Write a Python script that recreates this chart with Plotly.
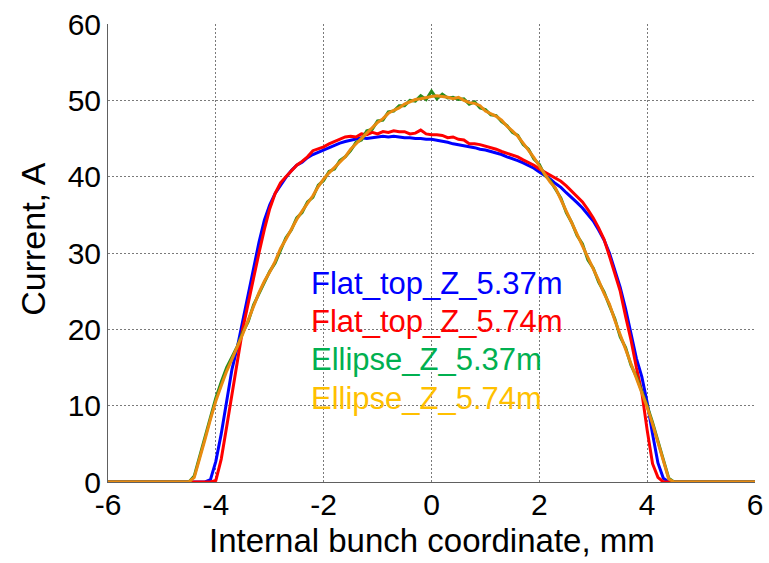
import numpy as np
import plotly.graph_objects as go

# Sample grid of the bunch coordinate (mm); beyond +/-4.5 every profile is zero
coord = [round(v, 1) for v in np.arange(-4.5, 4.51, 0.1)]
x_edges = [-6.0, 6.0]

flat_top_537 = [
    0, 0, 0, 0, 0.3, 2.7, 6.3, 10.6, 14.8, 17.7,
    21.1, 24.6, 27.9, 31.4, 34.3, 36.3, 37.8, 38.9, 39.9, 40.8,
    41.5, 41.9, 42.5, 42.9, 43.2, 43.6, 43.9, 44.2, 44.4, 44.6,
    44.8, 44.9, 45.1, 45.0, 45.1, 45.2, 45.3, 45.2, 45.3, 45.2,
    45.1, 45.1, 45.0, 45.0, 44.9, 44.9, 44.8, 44.6, 44.5, 44.3,
    44.2, 44.0, 43.9, 43.8, 43.6, 43.5, 43.3, 43.1, 42.9, 42.6,
    42.4, 42.1, 41.8, 41.5, 41.1, 40.6, 40.2, 39.7, 39.1, 38.6,
    37.9, 37.3, 36.6, 35.9, 35.1, 34.2, 33.0, 31.7, 30.0, 27.9,
    25.5, 22.7, 19.6, 16.2, 13.8, 10.4, 6.3, 2.5, 0.5, 0, 0,
]

flat_top_574 = [
    0, 0, 0, 0, 0, 0.2, 3.0, 7.2, 11.6, 16.3,
    20.1, 23.4, 26.8, 30.0, 33.1, 35.8, 37.8, 39.2, 40.0, 40.8,
    41.5, 42.0, 42.6, 43.4, 43.6, 43.9, 44.3, 44.6, 44.8, 45.2,
    45.3, 45.2, 45.6, 45.5, 45.8, 45.6, 45.9, 45.8, 46.0, 45.9,
    45.9, 45.6, 45.7, 46.1, 45.6, 45.5, 45.5, 45.4, 45.1, 45.2,
    44.9, 44.8, 44.3, 44.3, 44.2, 44.0, 43.9, 43.6, 43.3, 43.1,
    42.8, 42.6, 42.2, 41.9, 41.5, 41.0, 40.6, 40.1, 39.7, 39.4,
    38.8, 38.1, 37.5, 36.7, 35.7, 34.6, 33.3, 31.8, 29.6, 27.3,
    25.0, 21.7, 18.6, 15.0, 11.8, 6.8, 2.4, 0.6, 0, 0, 0,
]

ellipse_537 = [
    0, 0.8, 3.4, 6.0, 8.6, 11.0, 13.1, 15.0, 16.4, 17.8,
    19.6, 21.0, 23.2, 24.7, 26.0, 27.6, 28.7, 30.4, 32.0, 33.0,
    34.6, 35.3, 36.7, 37.3, 38.9, 39.5, 40.7, 41.0, 42.1, 42.6,
    43.4, 44.5, 44.8, 46.0, 46.2, 47.3, 47.4, 48.5, 48.6, 49.3,
    49.3, 50.0, 49.9, 50.6, 50.1, 51.2, 50.2, 50.8, 50.3, 50.4,
    50.1, 50.2, 49.5, 49.8, 49.0, 48.8, 48.1, 48.0, 47.2, 46.7,
    45.8, 45.4, 44.2, 43.6, 42.3, 41.6, 40.2, 39.5, 38.3, 37.2,
    35.3, 34.0, 32.3, 31.2, 29.1, 28.0, 26.2, 24.9, 23.1, 21.4,
    19.0, 17.6, 15.3, 13.8, 11.9, 10.0, 7.8, 5.4, 2.8, 0.5, 0,
]

ellipse_574 = [
    0, 0.6, 3.0, 5.6, 8.2, 10.6, 12.6, 14.5, 16.1, 17.7,
    19.4, 21.2, 23.0, 24.8, 26.3, 27.5, 28.9, 30.6, 31.8, 33.2,
    34.4, 35.5, 36.5, 37.5, 38.7, 39.7, 40.5, 41.2, 41.9, 42.6,
    43.6, 44.3, 45.0, 45.8, 46.4, 47.1, 47.6, 48.3, 48.7, 49.0,
    49.5, 49.8, 50.1, 50.2, 50.4, 50.5, 50.6, 50.5, 50.4, 50.2,
    50.4, 50.0, 49.7, 49.6, 49.3, 48.6, 48.3, 47.9, 47.4, 46.6,
    46.0, 45.3, 44.4, 43.5, 42.5, 41.4, 40.4, 39.3, 38.5, 37.0,
    35.5, 33.8, 32.5, 31.0, 29.3, 27.8, 26.4, 24.7, 23.3, 21.2,
    19.2, 17.4, 15.5, 13.6, 11.7, 9.8, 7.6, 5.2, 2.6, 0.4, 0,
]

series_names = ["Flat_top_Z_5.37m", "Flat_top_Z_5.74m", "Ellipse_Z_5.37m", "Ellipse_Z_5.74m"]
series_values = [flat_top_537, flat_top_574, ellipse_537, ellipse_574]
line_colors = ["#0000FF", "#FF0000", "#2A8C1E", "#E88B10"]
label_colors = ["#0000FF", "#FF0000", "#00B050", "#FFC000"]
label_y = [26.0, 21.0, 16.0, 11.0]

x_ticks = [-6, -4, -2, 0, 2, 4, 6]
x_tick_text = ["-6", "-4", "-2", "0", "2", "4", "6"]
y_ticks = [0, 10, 20, 30, 40, 50, 60]
y_tick_text = ["0", "10", "20", "30", "40", "50", "60"]

FONT = "Liberation Sans, Arial, sans-serif"

fig = go.Figure()
for name, vals, col in zip(series_names, series_values, line_colors):
    fig.add_trace(go.Scatter(
        x=[x_edges[0]] + coord + [x_edges[1]],
        y=[0] + vals + [0],
        mode="lines",
        name=name,
        line=dict(color=col, width=3),
        showlegend=False,
    ))

# Coloured series labels inside the plot area
for name, col, yy in zip(series_names, label_colors, label_y):
    fig.add_annotation(
        x=-2.27, y=yy, xref="x", yref="y",
        text=name, showarrow=False,
        xanchor="left", yanchor="middle",
        font=dict(family=FONT, size=31, color=col),
    )

# Axis titles
fig.add_annotation(
    x=-0.116, y=0.531, xref="paper", yref="paper",
    text="Current, A", textangle=-90, showarrow=False,
    xanchor="center", yanchor="middle",
    font=dict(family=FONT, size=34, color="#000000"),
)
fig.add_annotation(
    x=0.5, y=-0.128, xref="paper", yref="paper",
    text="Internal bunch coordinate, mm", showarrow=False,
    xanchor="center", yanchor="middle",
    font=dict(family=FONT, size=33, color="#000000"),
)

axis_common = dict(
    showline=True, linecolor="#606060", linewidth=1,
    showgrid=True, gridcolor="#7a7a7a", gridwidth=1, griddash="2px,2px",
    zeroline=False, ticks="", automargin=False,
    tickfont=dict(family=FONT, size=30, color="#000000"),
)

fig.update_xaxes(range=[-6, 6], tickvals=x_ticks, ticktext=x_tick_text,
                 ticklabelstandoff=-4, **axis_common)
fig.update_yaxes(range=[0, 60], tickvals=y_ticks, ticktext=y_tick_text, **axis_common)

fig.update_layout(
    width=769, height=563,
    margin=dict(l=108, r=14, t=24, b=81, pad=0),
    paper_bgcolor="white", plot_bgcolor="white",
    font=dict(family=FONT),
)

fig.write_html("out.html")
